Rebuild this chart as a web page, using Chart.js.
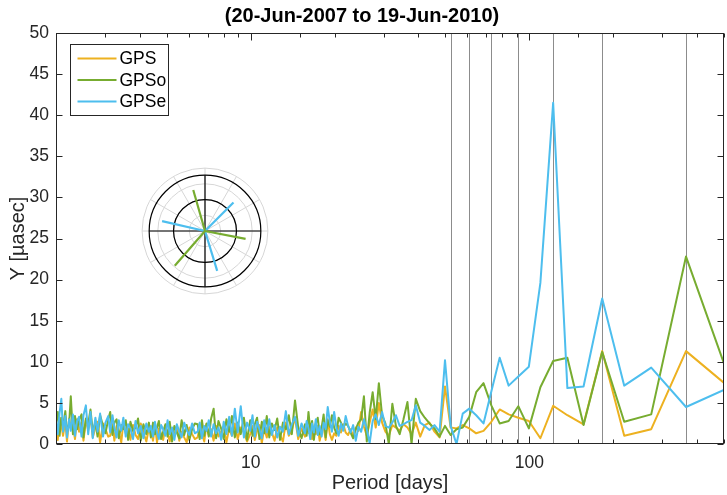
<!DOCTYPE html>
<html>
<head>
<meta charset="utf-8">
<title>Period spectrum</title>
<script src="https://cdn.jsdelivr.net/npm/chart.js@4.4.1/dist/chart.umd.min.js"></script>
<style>
	body { margin: 0; background: #fff; }
	#wrap { position: relative; width: 727px; height: 495px; }
	#grafico { position: absolute; left: 0; top: 0; }
	#polar { position: absolute; left: 135px; top: 161px; }
</style>
</head>
<body>
<div id="wrap">
	<canvas id="grafico" width="727" height="495"></canvas>
	<canvas id="polar" width="140" height="140"></canvas>
</div>
<script>
// period of each spectral line [days]
var periods = [
	2.00, 2.03, 2.06, 2.09, 2.12, 2.16, 2.19, 2.23, 2.26, 2.30, 2.34, 2.38, 2.42, 2.47, 2.51, 2.56, 2.61, 2.66, 2.71, 2.77, 2.82, 2.88, 2.95, 3.01, 3.08,
	3.13, 3.19, 3.24, 3.30, 3.36, 3.43, 3.49, 3.56, 3.63, 3.70, 3.78, 3.86, 3.94, 4.03, 4.12, 4.22, 4.31,
	4.38, 4.46, 4.53, 4.61, 4.68, 4.77, 4.85, 4.94, 5.03, 5.12, 5.22, 5.32, 5.43, 5.54, 5.65, 5.77, 5.89, 6.02, 6.16, 6.30,
	6.45, 6.56, 6.68, 6.81, 6.94, 7.07, 7.21, 7.36, 7.51, 7.66, 7.83, 8.00, 8.18, 8.37, 8.56, 8.77, 8.98, 9.21, 9.45, 9.70,
	9.96, 10.15, 10.34, 10.54, 10.75, 10.96, 11.18, 11.42, 11.66, 11.91, 12.18, 12.45, 12.74, 13.05, 13.37, 13.70, 14.05, 14.42, 14.81, 15.22,
	15.66, 15.88, 16.12, 16.36, 16.61, 16.86, 17.13, 17.40, 17.68, 17.97, 18.27, 18.58, 18.90,
	19.23, 19.57, 19.93, 20.30, 20.68, 21.08, 21.49, 21.92, 22.37, 22.83, 23.32, 23.83, 24.36, 24.91, 25.49, 26.10, 26.73,
	27.40, 28.10, 28.84, 29.62, 30.44, 31.31, 32.24, 33.21, 34.25, 35.35, 36.53, 37.79, 39.14, 40.59, 42.15, 43.84, 45.67, 47.65, 49.82,
	52.19, 54.80, 57.68, 60.89, 64.47, 68.50, 73.07, 78.29, 84.31, 91.33, 99.64, 109.6, 121.8, 137.0, 156.6, 182.7, 219.2, 274.0, 365.3, 548.0
];

// amplitudes [uas]
var gps = [
	2.2, 0.5, 3.2, 2.4, 1.0, 2.8, 0.3, 3.1, 1.9, 2.2, 0.6, 3.0, 1.5, 2.6, 0.4, 2.9, 1.7, 3.3, 0.8, 2.0, 2.7, 0.2, 2.5, 1.8, 0.9,
	1.0, 2.4, 0.4, 2.2, 1.5, 0.2, 2.6, 1.3, 1.9, 0.5, 2.3, 1.1, 0.6, 2.5, 1.4, 0.3, 1.9,
	1.7, 0.4, 2.3, 0.2, 1.9, 1.2, 0.5, 2.1, 1.4, 0.3, 1.8, 1.0, 2.2, 0.4, 1.5, 0.8, 0.2, 2.0, 1.2, 0.6,
	0.8, 2.1, 1.3, 0.3, 2.4, 1.1, 1.8, 0.4, 2.2, 0.9, 1.5, 2.0, 0.2, 1.9, 1.0, 2.5, 0.6, 2.0, 1.4, 0.3,
	1.2, 2.2, 0.5, 1.6, 2.3, 0.1, 1.9, 0.8, 2.1, 1.4, 0.4, 2.0, 1.1, 0.3, 2.6, 1.0, 1.7, 3.2, 0.6, 1.9,
	0.9, 2.0, 1.3, 2.4, 0.6, 1.7, 1.2, 2.2, 0.4, 1.5, 2.1, 0.5, 3.0,
	1.2, 0.5, 1.3, 1.0, 2.2, 1.4, 2.4, 1.4, 1.1, 1.8, 1.0, 2.0, 1.6, 3.9, 2.1, 1.0, 2.6,
	4.2, 2.0, 5.0, 2.6, 1.5, 1.0, 2.3, 2.0, 1.6, 2.4, 2.0, 1.2, 2.6, 0.9, 2.3, 2.6, 1.5, 0.8, 7.0,
	2.0, 1.9, 2.3, 1.9, 1.3, 1.6, 2.7, 4.2, 3.6, 3.2, 2.8, 0.7, 4.65, 3.5, 2.4, 11.3, 1.0, 1.8, 11.3, 6.3
];
var gpso = [
	2.6, 3.9, 1.0, 3.2, 2.1, 4.0, 1.4, 2.5, 5.8, 1.2, 3.4, 1.8, 2.9, 3.6, 0.8, 3.1, 2.4, 4.2, 1.5, 2.7, 0.9, 3.5, 2.2, 1.3, 3.0,
	3.9, 1.1, 2.6, 3.0, 0.7, 2.3, 1.8, 2.9, 0.5, 2.7, 1.6, 2.0, 3.1, 0.4, 2.4, 1.2, 2.6,
	0.8, 2.6, 1.2, 2.0, 2.8, 0.6, 1.5, 2.4, 0.9, 2.7, 0.3, 2.2, 1.4, 0.7, 2.9, 1.1, 2.3, 0.5, 1.8, 2.5,
	2.4, 0.6, 2.9, 1.0, 2.5, 0.9, 3.1, 4.3, 0.7, 2.8, 1.9, 0.6, 3.0, 1.5, 3.4, 0.8, 2.6, 1.2, 3.2, 0.5,
	2.9, 1.0, 2.4, 3.2, 0.6, 2.7, 1.3, 3.4, 0.8, 2.5, 1.7, 3.1, 0.5, 2.6, 1.8, 3.5, 1.2, 5.3, 2.0, 0.7,
	2.4, 1.0, 3.9, 1.6, 2.8, 0.5, 2.5, 3.2, 1.2, 2.0, 3.6, 0.8, 2.9,
	2.1, 3.5, 2.0, 1.3, 3.2, 2.6, 2.0, 2.5, 2.2, 1.4, 0.7, 1.8, 2.6, 3.0, 5.8, 0.3, 3.8,
	6.3, 3.0, 7.4, 3.5, 2.5, 0.0, 4.9, 2.2, 1.2, 3.0, 5.1, 0.0, 5.5, 4.0, 3.2, 2.5, 1.9, 0.9, 2.2,
	1.1, 1.8, 2.0, 3.3, 6.3, 7.4, 4.7, 2.5, 2.8, 4.6, 1.9, 6.9, 10.1, 10.5, 2.3, 11.2, 2.7, 3.6, 22.8, 6.0
];
var gpse = [
	3.0, 1.2, 3.8, 5.5, 1.5, 3.4, 0.8, 3.0, 1.6, 3.6, 1.0, 2.8, 3.3, 0.9, 3.5, 4.7, 1.2, 3.9, 0.7, 3.2, 1.5, 3.7, 0.9, 2.6, 3.4,
	1.4, 3.5, 2.0, 0.8, 2.9, 1.6, 3.2, 0.9, 2.4, 1.9, 0.6, 2.8, 1.3, 2.2, 0.7, 2.5, 1.5,
	2.2, 0.9, 2.7, 1.4, 0.6, 2.3, 1.8, 1.0, 2.9, 1.2, 2.0, 0.5, 2.4, 1.5, 0.8, 2.6, 1.7, 1.1, 2.5, 1.3,
	1.5, 2.6, 0.7, 2.2, 1.6, 2.9, 0.9, 2.4, 1.3, 2.0, 0.5, 2.7, 1.2, 3.3, 1.0, 4.3, 1.4, 4.6, 0.8, 2.6,
	1.6, 3.5, 0.9, 2.7, 1.8, 0.7, 2.9, 1.4, 3.0, 1.1, 2.3, 0.8, 2.1, 1.5, 4.0, 1.2, 2.4, 3.3, 1.0, 2.5,
	1.3, 2.8, 1.9, 0.6, 2.5, 1.4, 3.0, 1.1, 2.2, 0.9, 2.6, 1.8, 4.5,
	2.7, 1.5, 3.9, 2.0, 1.0, 2.5, 1.6, 3.4, 2.2, 1.4, 2.3, 0.4, 2.1, 1.5, 3.0, 1.8, 0.1,
	2.8, 3.6, 2.3, 3.9, 2.2, 2.0, 2.6, 3.5, 2.2, 2.4, 2.7, 2.9, 4.7, 2.6, 2.2, 1.7, 2.3, 1.5, 10.2,
	2.2, 0.0, 3.7, 4.3, 3.5, 2.5, 6.4, 10.5, 7.1, 8.2, 9.4, 19.6, 41.5, 6.8, 7.0, 17.7, 7.1, 9.3, 4.5, 7.2
];

// tropical year and its harmonics [days]
var annualHarmonics = [52.18, 60.88, 73.05, 91.31, 121.75, 182.63, 365.25];

var seriesNames = ['GPS', 'GPSo', 'GPSe'];
var cores = ['#EDB120', '#77AC30', '#4DBEEE'];

// phasors of the polar inset (amplitude in ring units, angle in degrees)
var polarAmpGPSo = [2.71, 2.63, 2.93];
var polarAngGPSo = [106, -11, 229];
var polarAmpGPSe = [2.56, 2.80, 2.65];
var polarAngGPSe = [45, 167, -73];
var polarRings = [1, 2, 3, 4];
var polarCircles = [2, 3.55];

var fonte = "'Liberation Sans', Arial, Helvetica, sans-serif";
Chart.defaults.font.family = fonte;
Chart.defaults.color = '#262626';

function pontos(valores) {
	return periods.map(function (p, i) { return {x: p, y: valores[i]}; });
}

var linhasVerticais = {
	id: 'linhasVerticais',
	beforeDatasetsDraw: function (chart) {
		var ctx = chart.ctx, area = chart.chartArea, sx = chart.scales.x;
		ctx.save();
		ctx.strokeStyle = '#8c8c8c';
		ctx.lineWidth = 1;
		annualHarmonics.forEach(function (p) {
			var px = Math.round(sx.getPixelForValue(p)) + 0.5;
			ctx.beginPath();
			ctx.moveTo(px, area.top);
			ctx.lineTo(px, area.bottom);
			ctx.stroke();
		});
		ctx.restore();
	}
};

var caixaEixos = {
	id: 'caixaEixos',
	afterDatasetsDraw: function (chart) {
		var ctx = chart.ctx, a = chart.chartArea, sx = chart.scales.x, sy = chart.scales.y;
		var l = Math.round(a.left) + 0.5, r = Math.round(a.right) - 0.5;
		var t = Math.round(a.top) + 0.5, b = Math.round(a.bottom) - 0.5;
		ctx.save();
		ctx.strokeStyle = '#262626';
		ctx.lineWidth = 1;
		ctx.strokeRect(l, t, r - l, b - t);
		ctx.beginPath();
		sx.ticks.forEach(function (tk) {
			var px = Math.round(sx.getPixelForValue(tk.value)) + 0.5;
			var len = (tk.value === 10 || tk.value === 100) ? 7 : 4;
			ctx.moveTo(px, b); ctx.lineTo(px, b - len);
			ctx.moveTo(px, t); ctx.lineTo(px, t + len);
		});
		sy.ticks.forEach(function (tk) {
			var py = Math.round(sy.getPixelForValue(tk.value)) + 0.5;
			ctx.moveTo(l, py); ctx.lineTo(l + 6, py);
			ctx.moveTo(r, py); ctx.lineTo(r - 6, py);
		});
		ctx.stroke();
		ctx.restore();
	}
};

var legenda = {
	id: 'legenda',
	afterDraw: function (chart) {
		var ctx = chart.ctx, a = chart.chartArea;
		var x0 = Math.round(a.left) + 14.5, y0 = Math.round(a.top) + 11.5;
		ctx.save();
		ctx.fillStyle = '#fff';
		ctx.fillRect(x0, y0, 98, 71);
		ctx.strokeStyle = '#262626';
		ctx.lineWidth = 1;
		ctx.strokeRect(x0, y0, 98, 71);
		ctx.font = '17.5px ' + fonte;
		ctx.textBaseline = 'middle';
		chart.data.datasets.forEach(function (ds, i) {
			var y = y0 + 14 + i * 21.5;
			ctx.strokeStyle = ds.borderColor;
			ctx.lineWidth = 2;
			ctx.beginPath();
			ctx.moveTo(x0 + 7, y);
			ctx.lineTo(x0 + 46, y);
			ctx.stroke();
			ctx.fillStyle = '#000';
			ctx.fillText(ds.label, x0 + 49, y + 1);
		});
		ctx.restore();
	}
};

var grafico = new Chart(document.getElementById('grafico'), {
	type: 'line',
	data: {
		datasets: [
			{label: seriesNames[0], data: pontos(gps), borderColor: cores[0], order: 3},
			{label: seriesNames[1], data: pontos(gpso), borderColor: cores[1], order: 2},
			{label: seriesNames[2], data: pontos(gpse), borderColor: cores[2], order: 1}
		]
	},
	options: {
		responsive: false,
		animation: false,
		events: [],
		elements: {
			line: {borderWidth: 2, tension: 0, fill: false, borderJoinStyle: 'round'},
			point: {radius: 0}
		},
		layout: {padding: {left: 0, right: 3, top: 0, bottom: 0}},
		plugins: {
			legend: {display: false},
			tooltip: {enabled: false},
			title: {
				display: true,
				text: '(20-Jun-2007 to 19-Jun-2010)',
				color: '#000',
				font: {size: 20, weight: 'bold'},
				padding: {top: 4, bottom: 5}
			}
		},
		scales: {
			x: {
				type: 'logarithmic',
				min: 2,
				max: 500,
				grid: {display: false, drawTicks: false},
				border: {display: false},
				ticks: {
					autoSkip: false,
					maxRotation: 0,
					padding: 3,
					font: {size: 17.5, lineHeight: 1.9},
					color: '#262626',
					callback: function (v) { return (v === 10 || v === 100) ? String(v) : ''; }
				},
				title: {display: true, text: 'Period [days]', color: '#262626', font: {size: 20}, padding: {top: 0, bottom: 0}},
				afterFit: function (s) { s.height = 51; }
			},
			y: {
				min: 0,
				max: 50,
				grid: {display: false, drawTicks: false},
				border: {display: false},
				ticks: {stepSize: 5, padding: 7, font: {size: 17.5}, color: '#262626'},
				title: {display: true, text: 'Y [µasec]', color: '#262626', font: {size: 20}, padding: {top: 6, bottom: 0}},
				afterFit: function (s) { s.width = 56; }
			}
		}
	},
	plugins: [linhasVerticais, caixaEixos, legenda]
});

// polar inset
var gradePolar = {
	id: 'gradePolar',
	beforeDatasetsDraw: function (chart) {
		var ctx = chart.ctx, sx = chart.scales.x, sy = chart.scales.y;
		var cx = sx.getPixelForValue(0), cy = sy.getPixelForValue(0);
		var u = sx.getPixelForValue(1) - cx;
		var rMax = polarRings[polarRings.length - 1] * u;
		var rBlack = polarCircles[polarCircles.length - 1] * u;
		ctx.save();
		ctx.strokeStyle = '#d6d6d6';
		ctx.lineWidth = 1;
		polarRings.forEach(function (r) {
			ctx.beginPath();
			ctx.arc(cx, cy, r * u, 0, 2 * Math.PI);
			ctx.stroke();
		});
		for (var ang = 0; ang < 360; ang += 30) {
			var rad = ang * Math.PI / 180;
			ctx.beginPath();
			ctx.moveTo(cx, cy);
			ctx.lineTo(cx + rMax * Math.cos(rad), cy - rMax * Math.sin(rad));
			ctx.stroke();
		}
		ctx.strokeStyle = '#000';
		ctx.lineWidth = 1.2;
		polarCircles.forEach(function (r) {
			ctx.beginPath();
			ctx.arc(cx, cy, r * u, 0, 2 * Math.PI);
			ctx.stroke();
		});
		ctx.beginPath();
		ctx.moveTo(cx - rBlack, cy); ctx.lineTo(cx + rBlack, cy);
		ctx.moveTo(cx, cy - rBlack); ctx.lineTo(cx, cy + rBlack);
		ctx.stroke();
		ctx.restore();
	}
};

var polarDatasets = [];
function fasores(amps, angs, cor) {
	amps.forEach(function (amp, i) {
		var rad = angs[i] * Math.PI / 180;
		polarDatasets.push({
			data: [{x: 0, y: 0}, {x: amp * Math.cos(rad), y: amp * Math.sin(rad)}],
			borderColor: cor,
			borderWidth: 2.2,
			pointRadius: 0,
			showLine: true
		});
	});
}
fasores(polarAmpGPSo, polarAngGPSo, cores[1]);
fasores(polarAmpGPSe, polarAngGPSe, cores[2]);

var polar = new Chart(document.getElementById('polar'), {
	type: 'scatter',
	data: {datasets: polarDatasets},
	options: {
		responsive: false,
		animation: false,
		events: [],
		layout: {padding: 0},
		plugins: {legend: {display: false}, tooltip: {enabled: false}},
		scales: {
			x: {type: 'linear', min: -4.45, max: 4.45, display: false},
			y: {type: 'linear', min: -4.45, max: 4.45, display: false}
		}
	},
	plugins: [gradePolar]
});
</script>
</body>
</html>
